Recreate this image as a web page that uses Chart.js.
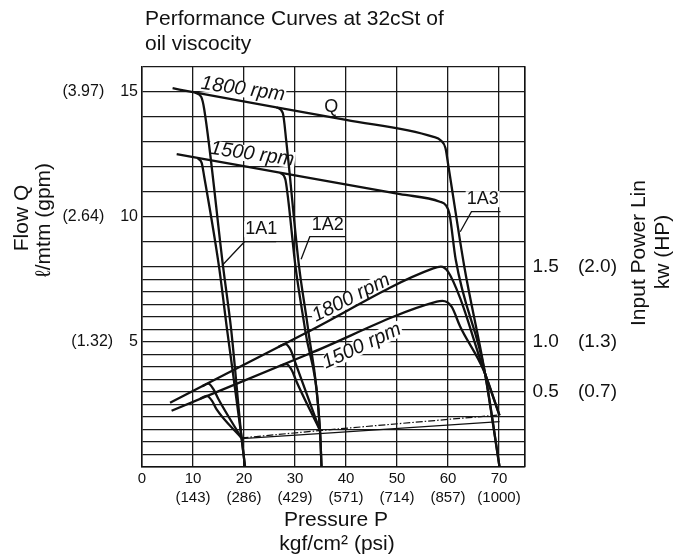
<!DOCTYPE html>
<html>
<head>
<meta charset="utf-8">
<script src="https://cdn.jsdelivr.net/npm/chart.js@4.4.1/dist/chart.umd.min.js"></script>
<style>
  html, body { margin: 0; padding: 0; background: #fff; }
  #wrap { width: 684px; height: 556px; position: relative; }
</style>
</head>
<body>
<div id="wrap"><canvas id="chart"></canvas></div>
<script>
// pressure axis, kgf/cm2 with psi below
const pressureTicks = [0, 10, 20, 30, 40, 50, 60, 70, 75];
const psiLabels = ['', '(143)', '(286)', '(429)', '(571)', '(714)', '(857)', '(1000)', ''];

// flow axis grid (l/min): 1 step above 8, half steps below
const flowGrid = [0, 0.5, 1, 1.5, 2, 2.5, 3, 3.5, 4, 4.5, 5, 5.5, 6, 6.5, 7, 7.5, 8,
  9, 10, 11, 12, 13, 14, 15, 16];
const flowLabelAt = [5, 10, 15];
const gpmLabels = ['(1.32)', '(2.64)', '(3.97)'];

// power axis: tick position on the shared grid, kW and HP
const powerTickAt = [3, 5, 8];
const kwLabels = ['0.5', '1.0', '1.5'];
const hpLabels = ['(0.7)', '(1.3)', '(2.0)'];

// flow curves [pressure, l/min]
const flow1800 = [[6, 15.14], [10, 14.98], [40, 13.87], [57, 13.2], [58.6, 13.05], [59.5, 12.75], [60.1, 12.0], [63.2, 8.0], [67.2, 3.8], [70.1, 0]];
const flow1500 = [[6.8, 12.5], [20.5, 12.0], [50.6, 10.9], [58.4, 10.6], [59.6, 10.45], [60.3, 10.1], [61.5, 8.3], [67.2, 3.8], [70.1, 0]];
const flow1A1_1800 = [[10.4, 14.96], [11.6, 14.8], [12.2, 14.3], [15.9, 8.0], [17.5, 5.45], [19.5, 1.2], [20.2, 0]];
const flow1A1_1500 = [[11.0, 12.33], [11.7, 12.15], [12.2, 11.6], [15.1, 8.0], [16.7, 5.45], [19.5, 1.2], [20.2, 0]];
const flow1A2_1800 = [[26.4, 14.37], [27.6, 14.15], [28.3, 13.0], [30.8, 8.0], [32.6, 5.45], [34.9, 1.45], [35.2, 0]];
const flow1A2_1500 = [[27.1, 11.76], [28.1, 11.5], [28.6, 10.8], [30.1, 8.0], [32.0, 5.45], [34.9, 1.45], [35.2, 0]];

// input power curves [pressure, position on power scale]
const power1800 = [[5.5, 2.56], [32.3, 5.37], [57.1, 7.93], [58.6, 8.0], [60.0, 7.8], [62.4, 6.73], [66.3, 4.3], [70.1, 2.05]];
const power1500 = [[5.8, 2.24], [32.9, 4.53], [57.8, 6.6], [58.9, 6.63], [60.7, 6.4], [62.4, 5.6], [67.0, 3.85], [70.1, 2.05]];
const power1A1_1800 = [[11.8, 3.22], [13.0, 3.32], [14.0, 3.1], [15.0, 2.7], [19.5, 1.15]];
const power1A1_1500 = [[11.4, 2.72], [12.7, 2.83], [13.7, 2.64], [14.6, 2.3], [19.5, 1.15]];
const power1A2_1800 = [[26.7, 4.79], [28.1, 4.9], [29.2, 4.65], [29.9, 4.25], [34.9, 1.45]];
const power1A2_1500 = [[27.0, 4.02], [28.3, 4.1], [29.4, 3.85], [30.2, 3.45], [34.9, 1.45]];
const deadheadA = [[19.5, 1.12], [70.1, 1.8]];
const deadheadB = [[19.5, 1.15], [35.2, 1.45], [70.1, 2.07]];

const FONT = '"Liberation Sans", Arial, Helvetica, sans-serif';
const INK = '#111';

// text placed on the plot, in data units
const curveNotes = [
  { text: '1800 rpm', p: 19.8, q: 15.1, rot: 8, font: 'italic 20px ' + FONT },
  { text: '1500 rpm', p: 21.6, q: 12.5, rot: 8, font: 'italic 20px ' + FONT },
  { text: 'Q', p: 37.1, q: 14.4, rot: 0, font: '18px ' + FONT },
  { text: '1A1', p: 23.4, q: 9.5, rot: 0, font: '18px ' + FONT },
  { text: '1A2', p: 36.4, q: 9.65, rot: 0, font: '18px ' + FONT },
  { text: '1A3', p: 66.8, q: 10.7, rot: 0, font: '18px ' + FONT },
  { text: '1800 rpm', p: 41, q: 6.75, rot: -27, font: 'italic 20px ' + FONT },
  { text: '1500 rpm', p: 43.1, q: 4.83, rot: -25, font: 'italic 20px ' + FONT },
];
const leaders = [
  [[26.3, 9.0], [20.1, 9.0], [15.7, 8.05]],
  [[39.8, 9.2], [32.9, 9.2], [31.2, 8.3]],
  [[70.3, 10.2], [64.6, 10.2], [62.4, 9.4]],
];

const pts = (arr) => arr.map(([x, y]) => ({ x, y }));

function curve(data, width, dash) {
  return {
    data: pts(data),
    borderColor: INK,
    borderWidth: width || 2.3,
    borderDash: dash || [],
    pointRadius: 0,
    fill: false,
    cubicInterpolationMode: 'monotone',
  };
}

const notesPlugin = {
  id: 'notes',
  beforeDatasetsDraw(chart) {
    const { ctx, scales: { x, y } } = chart;
    curveNotes.forEach((n) => {
      ctx.save();
      ctx.translate(x.getPixelForValue(n.p), y.getPixelForValue(n.q));
      ctx.rotate(n.rot * Math.PI / 180);
      ctx.font = n.font;
      const w = ctx.measureText(n.text).width;
      ctx.fillStyle = '#fff';
      ctx.fillRect(-w / 2 - 1, -8, w + 2, 16);
      ctx.fillStyle = INK;
      ctx.textAlign = 'center';
      ctx.textBaseline = 'middle';
      ctx.fillText(n.text, 0, 0);
      ctx.restore();
    });
    ctx.save();
    ctx.strokeStyle = INK;
    ctx.lineWidth = 1.3;
    leaders.forEach((line) => {
      ctx.beginPath();
      line.forEach(([p, q], i) => {
        const px = x.getPixelForValue(p), py = y.getPixelForValue(q);
        if (i === 0) ctx.moveTo(px, py); else ctx.lineTo(px, py);
      });
      ctx.stroke();
    });
    ctx.restore();
  },
  afterDraw(chart) {
    const { ctx } = chart;
    ctx.save();
    ctx.fillStyle = INK;
    ctx.font = '21px ' + FONT;
    ctx.textBaseline = 'middle';
    ctx.textAlign = 'left';
    ctx.fillText('Performance Curves at 32cSt of', 145, 19);
    ctx.fillText('oil viscocity', 145, 44);

    ctx.textAlign = 'center';
    ctx.fillText('Pressure P', 336, 520);
    ctx.fillText('kgf/cm\u00b2 (psi)', 337, 544);

    const rotated = (text, cx, cy) => {
      ctx.save();
      ctx.translate(cx, cy);
      ctx.rotate(-Math.PI / 2);
      ctx.fillText(text, 0, 0);
      ctx.restore();
    };
    rotated('Flow Q', 22, 218);
    rotated('\u2113/mtm (gpm)', 44, 220);
    rotated('Input Power Lin', 639, 253);
    rotated('kw (HP)', 663, 252);
    ctx.restore();
  },
};

new Chart(document.getElementById('chart'), {
  type: 'line',
  data: {
    datasets: [
      curve(flow1800), curve(flow1500),
      curve(flow1A1_1800), curve(flow1A1_1500),
      curve(flow1A2_1800), curve(flow1A2_1500),
      curve(power1800), curve(power1500),
      curve(power1A1_1800), curve(power1A1_1500),
      curve(power1A2_1800), curve(power1A2_1500),
      curve(deadheadA, 1.2), curve(deadheadB, 1.2, [7, 2, 1.5, 2]),
    ],
  },
  options: {
    responsive: true,
    maintainAspectRatio: false,
    animation: false,
    layout: { padding: { top: 66.7, left: 0, right: 0, bottom: 0 } },
    plugins: { legend: { display: false }, tooltip: { enabled: false } },
    scales: {
      x: {
        type: 'linear',
        min: 0,
        max: 75,
        afterBuildTicks: (s) => { s.ticks = pressureTicks.map((v) => ({ value: v })); },
        afterFit: (s) => { s.height = 89.3; },
        grid: { color: '#1a1a1a', lineWidth: 1.3, drawTicks: false },
        border: { color: INK, width: 1.5 },
        ticks: {
          autoSkip: false,
          maxRotation: 0,
          padding: 2,
          color: INK,
          font: { size: 15, family: FONT, lineHeight: 1.3 },
          callback: (v) => {
            const i = pressureTicks.indexOf(v);
            if (v === 75) return '';
            return psiLabels[i] ? [String(v), psiLabels[i]] : String(v);
          },
        },
      },
      y: {
        type: 'linear',
        position: 'left',
        min: 0,
        max: 16,
        afterBuildTicks: (s) => { s.ticks = flowGrid.map((v) => ({ value: v })); },
        afterFit: (s) => { s.width = 142; },
        grid: { color: '#1a1a1a', lineWidth: 1.3, drawTicks: false },
        border: { color: INK, width: 1.5 },
        ticks: {
          autoSkip: false,
          padding: 4,
          color: INK,
          font: { size: 16, family: FONT },
          callback: (v) => {
            const i = flowLabelAt.indexOf(v);
            return i < 0 ? '' : gpmLabels[i] + '\u2002\u2002' + v;
          },
        },
      },
      y2: {
        type: 'linear',
        position: 'right',
        min: 0,
        max: 16,
        afterBuildTicks: (s) => { s.ticks = powerTickAt.map((v) => ({ value: v })); },
        afterFit: (s) => { s.width = 159.5; },
        grid: { display: false, drawTicks: false },
        border: { color: INK, width: 1.5 },
        ticks: {
          autoSkip: false,
          padding: 8,
          color: INK,
          font: { size: 19, family: FONT },
          callback: (v) => {
            const i = powerTickAt.indexOf(v);
            return i < 0 ? '' : kwLabels[i] + '\u2002\u2002' + hpLabels[i];
          },
        },
      },
    },
  },
  plugins: [notesPlugin],
});
</script>
</body>
</html>
